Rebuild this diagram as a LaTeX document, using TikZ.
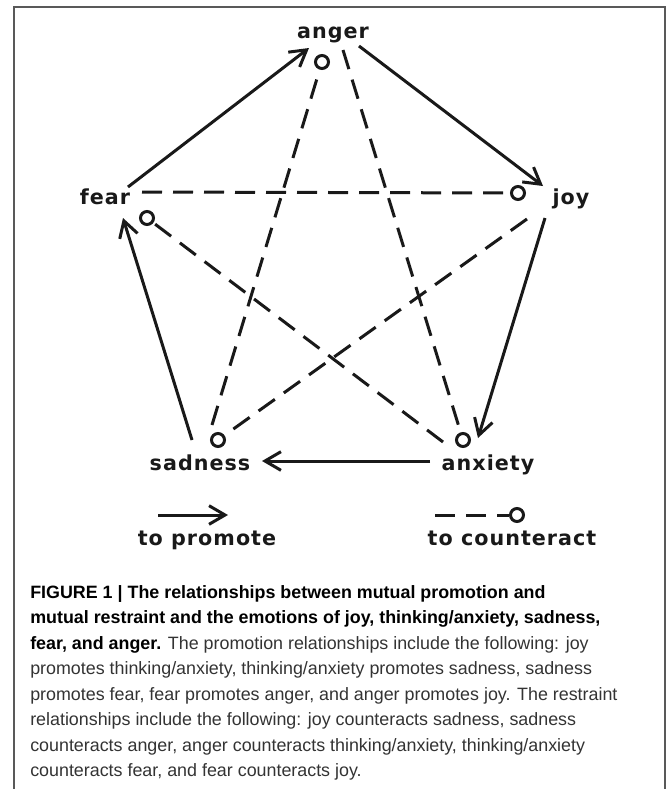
\documentclass[tikz,border=0pt]{standalone}
\usepackage{fontspec}
\setmainfont{Liberation Sans}
\newfontfamily\emofont[LetterSpace=5]{DejaVu Sans}
\usetikzlibrary{arrows.meta}

\begin{document}
\begin{tikzpicture}[x=0.75pt,y=-0.75pt,
  promote/.style={-{Straight Barb[length=12pt,width=14pt]},line width=2.25pt,draw=black!90},
  restrain/.style={line width=2.25pt,draw=black!90,dash pattern=on 15pt off 8.25pt},
  ring/.style={circle,draw=black!90,line width=2.25pt,minimum size=9.75pt,inner sep=0pt},
  emo/.style={anchor=base,inner sep=0pt,text=black!90,font=\emofont\bfseries\fontsize{15.5}{18}\selectfont}]
\useasboundingbox (0,0) rectangle (667,789);
\draw[line width=1.1pt,black!65] (14,789) -- (14,7) -- (665,7) -- (665,789);
% emotions
\node[emo] (anger) at (333,38) {anger};
\node[emo] (joy) at (571,204) {joy};
\node[emo] (anxiety) at (488,470) {anxiety};
\node[emo] (sadness) at (200,470) {sadness};
\node[emo] (fear) at (105,204) {fear};
% circle ends
\node[ring] (rA) at (322,62) {};
\node[ring] (rJ) at (518,193) {};
\node[ring] (rX) at (463,440) {};
\node[ring] (rS) at (218,440) {};
\node[ring] (rF) at (147,218) {};
% promotion
\coordinate (fa0) at (128,187); \coordinate (fa1) at (309,48);
\coordinate (aj0) at (359,46);  \coordinate (aj1) at (543,186);
\coordinate (jx0) at (545,218); \coordinate (jx1) at (478,438);
\coordinate (xs0) at (430,461); \coordinate (xs1) at (262,461);
\coordinate (sf0) at (192,440); \coordinate (sf1) at (123,218);
\draw[promote] (fa0) -- (fa1);
\draw[promote] (aj0) -- (aj1);
\draw[promote] (jx0) -- (jx1);
\draw[promote] (xs0) -- (xs1);
\draw[promote] (sf0) -- (sf1);
% restraint
\coordinate (fj) at (142,192);
\coordinate (js) at (527,219);
\coordinate (sa) at (212,425);
\coordinate (ax) at (343,50);
\coordinate (xf) at (443,442);
\draw[restrain] (fj) -- (rJ);
\draw[restrain] (js) -- (rS);
\draw[restrain] (sa) -- (rA);
\draw[restrain] (ax) -- (rX);
\draw[restrain] (xf) -- (rF);
% legend
\coordinate (lp0) at (158,515); \coordinate (lp1) at (228,515);
\draw[promote] (lp0) -- (lp1);
\node[emo] (lpro) at (207,545) {to promote};
\coordinate (lr0) at (435,515);
\node[ring] (rL) at (517,515) {};
\draw[restrain] (lr0) -- (rL);
\node[emo] (lcou) at (512,545) {to counteract};
% caption
\node[anchor=north west,inner sep=0pt,align=left,text=black!80,font=\fontsize{13.4}{19.1}\selectfont] (caption) at (30,585)
{{\bfseries\color{black}FIGURE 1 | The relationships between mutual promotion and}\\
{\bfseries\color{black}mutual restraint and the emotions of joy, thinking/anxiety, sadness,}\\
{\bfseries\color{black}fear, and anger.} The promotion relationships include the following: joy\\
promotes thinking/anxiety, thinking/anxiety promotes sadness, sadness\\
promotes fear, fear promotes anger, and anger promotes joy. The restraint\\
relationships include the following: joy counteracts sadness, sadness\\
counteracts anger, anger counteracts thinking/anxiety, thinking/anxiety\\
counteracts fear, and fear counteracts joy.};
\end{tikzpicture}
\end{document}
